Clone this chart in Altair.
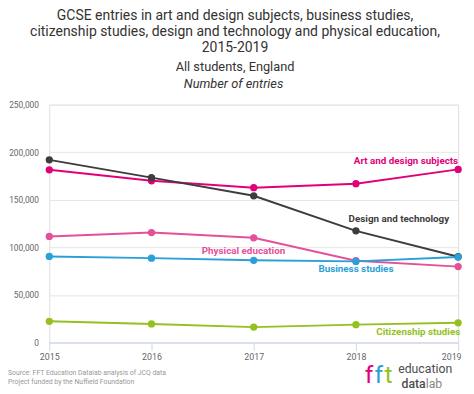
import altair as alt
import pandas as pd

years = [2015, 2016, 2017, 2018, 2019]
art = [181500, 170000, 162800, 167000, 182000]
design = [192000, 173300, 154200, 117400, 90200]
pe = [111500, 115600, 110100, 86000, 79800]
business = [90500, 88700, 86400, 85300, 89800]
citizenship = [22300, 19500, 16200, 18800, 20700]

series_names = ["Art and design subjects", "Design and technology", "Physical education",
                "Business studies", "Citizenship studies"]
series_values = [art, design, pe, business, citizenship]
series_colors = ["#e2007a", "#3d3d3d", "#e5509a", "#2a9fd8", "#94c11e"]

# label anchor positions (data coordinates)
label_years = [2018.49, 2018.42, 2016.90, 2018.00, 2018.61]
label_values = [191100, 130000, 96000, 77500, 11400]

y_ticks = [0, 50000, 100000, 150000, 200000, 250000]

title_lines = ["GCSE entries in art and design subjects, business studies,",
               "citizenship studies, design and technology and physical education,",
               "2015-2019"]
subtitle_line = "All students, England"
unit_line = "Number of entries"
source_lines = ["Source: FFT Education Datalab analysis of JCQ data",
                "Project funded by the Nuffield Foundation"]

rows = []
for name, vals in zip(series_names, series_values):
    for yr, v in zip(years, vals):
        rows.append({"series": name, "year": yr, "value": v})
df = pd.DataFrame(rows)
lab = pd.DataFrame({"series": series_names, "year": label_years, "value": label_values})

FONT = "Roboto"
color = alt.Color("series:N", scale=alt.Scale(domain=series_names, range=series_colors), legend=None)

x_enc = alt.X("year:Q", scale=alt.Scale(domain=[2015, 2019], nice=False, zero=False),
              axis=alt.Axis(values=years, format="d", title=None, grid=False,
                            domainColor="#ccd6eb", tickColor="#ccd6eb", tickSize=8,
                            labelColor="#666666", labelFontSize=9, labelFont=FONT,
                            labelPadding=2, labelFlush=False,
                            labelAlign=alt.ExprRef("datum.value == 2019 ? 'right' : 'center'"),
                            labelOffset=alt.ExprRef("datum.value == 2019 ? 3 : 0")))
y_enc = alt.Y("value:Q", scale=alt.Scale(domain=[0, 250000], nice=False),
              axis=alt.Axis(values=y_ticks, format=",d", domain=False, ticks=False,
                            gridColor="#e6e6e6", labelColor="#666666", labelFontSize=8.5,
                            labelFont=FONT, labelPadding=11,
                            title=unit_line, titleAngle=0, titleFontStyle="italic",
                            titleFontWeight="normal", titleFont=FONT, titleFontSize=13,
                            titleColor="#333333", titleX=187, titleY=-21,
                            titleAlign="center", titleBaseline="middle"))

base = alt.Chart(df)
lines = base.mark_line(strokeWidth=2).encode(x=x_enc, y=y_enc, color=color)
points = base.mark_circle(size=55, opacity=1).encode(x="year:Q", y="value:Q", color=color)
labels = alt.Chart(lab).mark_text(font=FONT, fontSize=10, fontWeight="bold", align="center",
                                  baseline="middle").encode(
    x="year:Q", y="value:Q", text="series:N", color=color)

one = pd.DataFrame({"a": [0]})

def txt(s, x, y, size, col, weight="normal", align="left", style="normal"):
    return alt.Chart(one).mark_text(font=FONT, fontSize=size, fontWeight=weight, align=align,
                                    baseline="middle", fontStyle=style).encode(
        x=alt.value(x), y=alt.value(y), text=alt.value(s), color=alt.value(col))

footer = [
    txt(source_lines[0], -42, 273, 7, "#999999"),
    txt(source_lines[1], -42, 282, 7, "#999999"),
    txt("f", 321, 275, 25, "#e2007a"),
    txt("f", 331, 275, 25, "#2a9fd8"),
    txt("t", 341, 275, 25, "#94c11e"),
    txt("education", 355, 269.5, 12.5, "#4d4d4d"),
    txt("data", 383, 284, 12.5, "#4d4d4d", weight=500, align="right"),
    txt("lab", 383, 284, 12.5, "#888888"),
]

chart = alt.layer(lines, points, labels, *footer).properties(
    width=416, height=242,
    autosize=alt.AutoSizeParams(type="none"),
    padding={"left": 42, "top": 95, "right": 8, "bottom": 49},
    title=alt.TitleParams(text=title_lines, subtitle=[subtitle_line], anchor="middle",
                          font=FONT, fontSize=14.2, fontWeight="normal", color="#333333",
                          lineHeight=16.5, subtitleFont=FONT, subtitleFontSize=13,
                          subtitleColor="#333333", subtitlePadding=6, offset=4, dx=-19),
).configure_view(stroke=None).configure(background="white")

chart.save("out.html", embed_options={"renderer": "svg", "actions": False})
